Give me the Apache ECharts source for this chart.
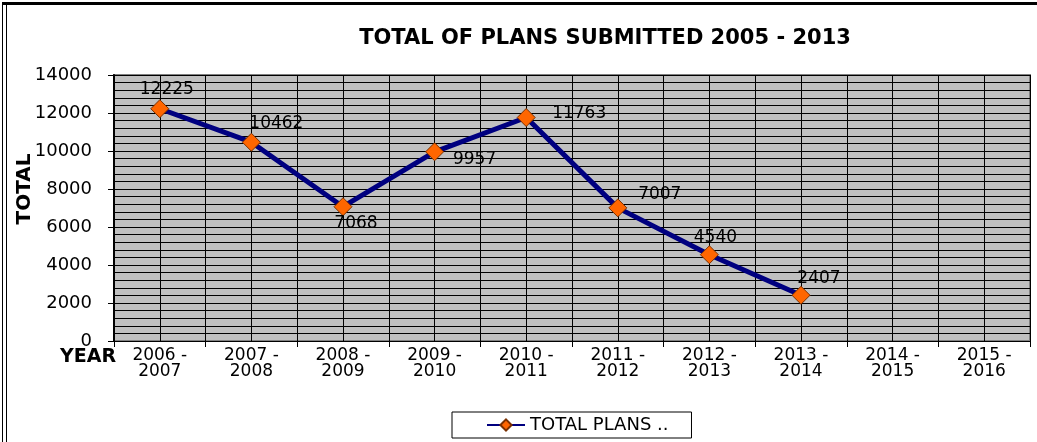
<!DOCTYPE html>
<html>
<head>
<meta charset="utf-8">
<script src="https://cdn.jsdelivr.net/npm/echarts@6/dist/echarts.min.js"></script>
<style>
  html, body { margin: 0; padding: 0; background: #fff; }
  #chart { width: 1037px; height: 442px; }
</style>
</head>
<body>
<div id="chart"></div>
<script>
// categorias del eje X (años fiscales)
const years = [
  '2006 -\n2007', '2007 -\n2008', '2008 -\n2009', '2009 -\n2010', '2010 -\n2011',
  '2011 -\n2012', '2012 -\n2013', '2013 -\n2014', '2014 -\n2015', '2015 -\n2016'
];
// total de planes presentados
const totalPlans = [12225, 10462, 7068, 9957, 11763, 7007, 4540, 2407, null, null];
const yTicks = [0, 2000, 4000, 6000, 8000, 10000, 12000, 14000];

const FONT = 'DejaVu Sans';

// desplazamiento de cada etiqueta respecto al marcador
const labelShift = [[7, -19], [25, -19], [13, 17], [40, 8], [53, -4], [42, -13], [6, -17], [18, -17], [0, 0], [0, 0]];

const chart = echarts.init(document.getElementById('chart'));

const option = {
  backgroundColor: '#fff',
  animation: false,
  title: {
    text: 'TOTAL OF PLANS SUBMITTED 2005 - 2013',
    left: 600,
    top: 23,
    textAlign: 'center',
    textStyle: { fontFamily: FONT, fontSize: 21, fontWeight: 'bold', color: '#000' }
  },
  legend: {
    left: 452,
    top: 412,
    padding: [4, 23, 4, 34],
    borderColor: '#000',
    borderWidth: 1,
    itemWidth: 38,
    itemHeight: 14,
    textStyle: { fontFamily: FONT, fontSize: 18, color: '#000' },
    data: ['TOTAL PLANS ..']
  },
  grid: {
    left: 114,
    right: 7,
    top: 75,
    bottom: 101,
    containLabel: false,
    outerBoundsMode: 'none',
    show: true,
    backgroundColor: '#C0C0C0',
    borderColor: '#808080',
    borderWidth: 2
  },
  xAxis: [
    {
      type: 'category',
      data: years,
      boundaryGap: true,
      axisLine: { lineStyle: { color: '#000', width: 1 } },
      axisTick: { show: true, interval: 0, length: 6, lineStyle: { color: '#000' } },
      axisLabel: {
        interval: 0, margin: 7, fontFamily: FONT, fontSize: 17, lineHeight: 16, color: '#000'
      },
      splitLine: { show: false }
    },
    {
      // rejilla vertical cada media categoría
      type: 'value',
      min: 0,
      max: years.length * 2,
      interval: 1,
      axisLine: { show: false },
      axisTick: { show: false },
      axisLabel: { show: false },
      splitLine: { show: true, lineStyle: { color: '#000', width: 1 } }
    }
  ],
  yAxis: {
    type: 'value',
    min: yTicks[0],
    max: yTicks[yTicks.length - 1],
    interval: 2000,
    axisLine: { show: true, lineStyle: { color: '#000', width: 2 } },
    axisTick: { show: true, length: 6, lineStyle: { color: '#000' } },
    axisLabel: {
      margin: 22, fontFamily: FONT, fontSize: 18, color: '#000',
      formatter: (v) => String(v)
    },
    splitLine: { show: true, lineStyle: { color: '#000', width: 1 } },
    minorTick: { show: false, splitNumber: 5 },
    minorSplitLine: { show: true, lineStyle: { color: '#000', width: 1 } }
  },
  graphic: [
    { type: 'rect', shape: { x: 3, y: 2, width: 1034, height: 3 }, style: { fill: '#000' } },
    { type: 'rect', shape: { x: 2, y: 2, width: 1, height: 440 }, style: { fill: '#000' } },
    { type: 'rect', shape: { x: 6, y: 5, width: 1, height: 437 }, style: { fill: '#000' } },
    {
      type: 'text', x: 25, y: 189, rotation: Math.PI / 2,
      style: {
        text: 'TOTAL', fontFamily: FONT, fontSize: 20, fontWeight: 'bold', fill: '#000',
        align: 'center', verticalAlign: 'middle'
      }
    },
    {
      type: 'text', left: 60, top: 348,
      style: { text: 'YEAR', fontFamily: FONT, fontSize: 19, fontWeight: 'bold', fill: '#000' }
    }
  ],
  series: [
    {
      name: 'TOTAL PLANS ..',
      type: 'line',
      xAxisIndex: 0,
      data: totalPlans.map((v, i) => ({
        value: v,
        label: { offset: labelShift[i] }
      })),
      symbol: 'diamond',
      symbolSize: 18,
      z: 5,
      lineStyle: { color: '#000080', width: 5 },
      itemStyle: { color: '#FF6600', borderColor: '#7a3000', borderWidth: 1 },
      label: {
        show: true,
        position: 'inside',
        fontFamily: FONT,
        fontSize: 17,
        color: '#000'
      }
    }
  ]
};

chart.setOption(option);
</script>
</body>
</html>
